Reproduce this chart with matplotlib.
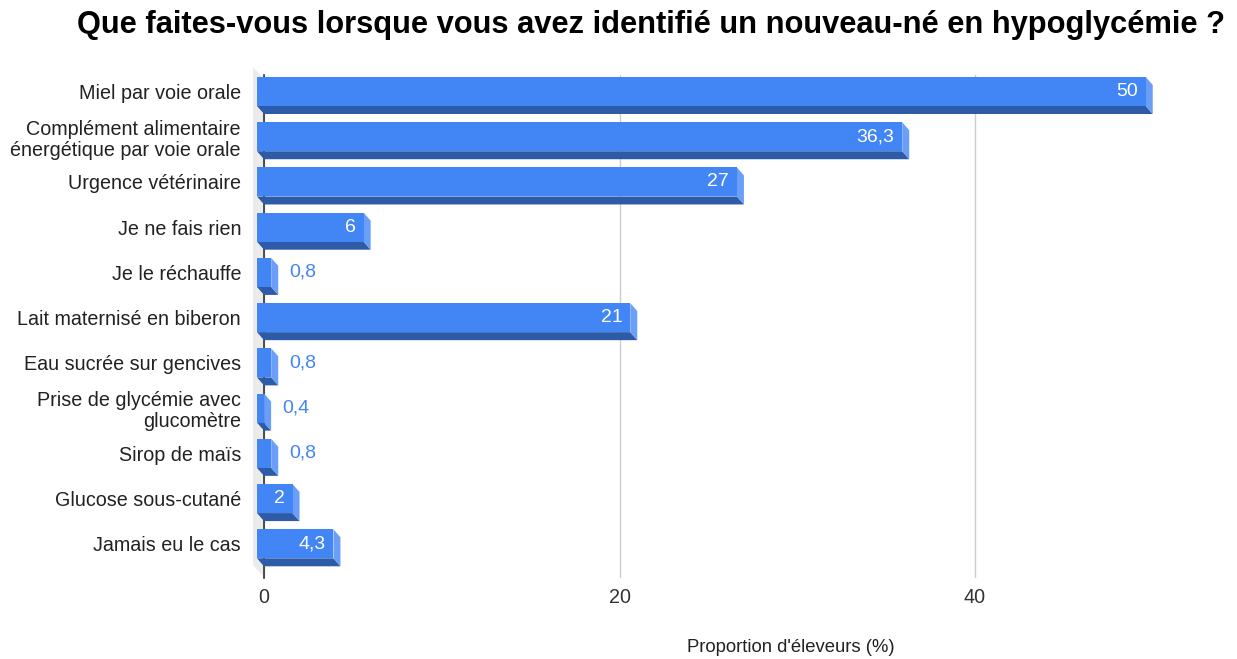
import matplotlib
matplotlib.use("Agg")
import matplotlib.pyplot as plt
from matplotlib.patches import Polygon, Rectangle

plt.rcParams['font.family'] = ['Liberation Sans', 'DejaVu Sans']

# ---- data ----
categories = [
    "Miel par voie orale",
    "Complément alimentaire\nénergétique par voie orale",
    "Urgence vétérinaire",
    "Je ne fais rien",
    "Je le réchauffe",
    "Lait maternisé en biberon",
    "Eau sucrée sur gencives",
    "Prise de glycémie avec\nglucomètre",
    "Sirop de maïs",
    "Glucose sous-cutané",
    "Jamais eu le cas",
]
values = [50, 36.3, 27, 6, 0.8, 21, 0.8, 0.4, 0.8, 2, 4.3]
value_labels = ["50", "36,3", "27", "6", "0,8", "21", "0,8", "0,4", "0,8", "2", "4,3"]
xticks = [0, 20, 40]
xtick_labels = ["0", "20", "40"]

title = "Que faites-vous lorsque vous avez identifié un nouveau-né en hypoglycémie ?"
xlabel = "Proportion d'éleveurs (%)"

# ---- styling ----
W, H = 1237, 659
DPI = 100
PT = 72 / DPI  # points per pixel
FRONT = "#4285F4"
BOTTOM = "#2D5BA8"
SIDE = "#6A9EF7"
WALL = "#EBEBEB"

fig = plt.figure(figsize=(W / DPI, H / DPI), dpi=DPI)

# pixel geometry of the plot area
px_left, px_right = 264, 1160
px_top, px_bottom = 75, 578
px_per_unit = 17.775
pitch = 45.23
center0 = 91.5
xmax = (px_right - px_left) / px_per_unit
ymin_data = (px_top - center0) / pitch
ymax_data = (px_bottom - center0) / pitch

ax = fig.add_axes([px_left / W, 1 - px_bottom / H,
                   (px_right - px_left) / W, (px_bottom - px_top) / H])
ax.set_xlim(0, xmax)
ax.set_ylim(ymax_data, ymin_data)

dx = 7 / px_per_unit
dy = 8 / pitch
h = 29 / pitch

for s in ["top", "right", "bottom"]:
    ax.spines[s].set_visible(False)
ax.spines["left"].set_color("#333333")
ax.spines["left"].set_linewidth(1.2)
ax.spines["left"].set_zorder(1.5)

ax.set_xticks(xticks)
ax.set_xticklabels(xtick_labels, fontsize=14.2, color="#333333")
ax.tick_params(axis="x", length=0, pad=10 * PT)
ax.grid(axis="x", color="#CCCCCC", linewidth=1, zorder=0)
ax.set_axisbelow(True)

ax.set_yticks(range(len(categories)))
ax.set_yticklabels(categories, fontsize=14.2, color="#222222")
ax.tick_params(axis="y", length=0, pad=23 * PT)
for lab in ax.get_yticklabels():
    lab.set_linespacing(1.15)

# back wall
wall = Polygon([(-0.62, (67 - center0) / pitch), (0, (79 - center0) / pitch),
                (0, (577 - center0) / pitch), (-0.62, (565 - center0) / pitch)],
               closed=True, facecolor=WALL, edgecolor="none", clip_on=False, zorder=1)
ax.add_patch(wall)

for i, v in enumerate(values):
    top = i - h / 2
    bot = i + h / 2
    bottom_face = Polygon([(-dx, bot), (v - dx, bot), (v, bot + dy), (0, bot + dy)],
                          closed=True, facecolor=BOTTOM, edgecolor="none",
                          clip_on=False, zorder=2)
    side_face = Polygon([(v - dx, top), (v, top + dy), (v, bot + dy), (v - dx, bot)],
                        closed=True, facecolor=SIDE, edgecolor="none",
                        clip_on=False, zorder=2)
    front = Rectangle((-dx, top), v, h, facecolor=FRONT, edgecolor="none",
                      clip_on=False, zorder=3)
    ax.add_patch(bottom_face)
    ax.add_patch(side_face)
    ax.add_patch(front)

    if v * px_per_unit > 25:
        ax.annotate(value_labels[i], xy=(v - dx, i), xytext=(-8 * PT, 0),
                    textcoords="offset points", ha="right", va="center",
                    fontsize=14, color="white", zorder=4)
    else:
        ax.annotate(value_labels[i], xy=(v, i), xytext=(11 * PT, 0),
                    textcoords="offset points", ha="left", va="center",
                    fontsize=14, color=FRONT, zorder=4)

fig.text(651 / W, 1 - 25 / H, title, ha="center", va="center",
         fontsize=22.2, fontweight="bold", color="#000000")
fig.text(791 / W, 1 - 648 / H, xlabel, ha="center", va="center",
         fontsize=13.3, color="#222222")

fig.savefig("out.png", dpi=DPI)
